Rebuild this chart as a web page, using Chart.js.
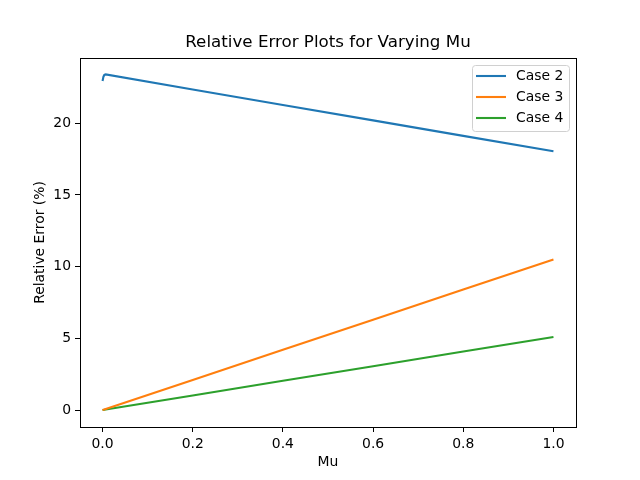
<!DOCTYPE html>
<html>
<head>
<meta charset="utf-8">
<script src="https://cdn.jsdelivr.net/npm/chart.js@4"></script>
<style>
  html, body { margin: 0; padding: 0; background: #fff; }
  canvas { display: block; }
</style>
</head>
<body>
<canvas id="chart" width="640" height="480"></canvas>
<script>
// Datos
const mu = [0, 0.002, 0.004, 0.007, 0.2, 0.4, 0.6, 0.8, 1.0];
const case2 = [22.95, 23.25, 23.37, 23.41, 22.35, 21.27, 20.2, 19.12, 18.05];
const case3 = [0, 0.02, 0.04, 0.07, 2.1, 4.2, 6.3, 8.4, 10.5];
const case4 = [0, 0.01, 0.02, 0.035, 1.02, 2.04, 3.06, 4.08, 5.1];

const xTicks = [0, 0.2, 0.4, 0.6, 0.8, 1.0];
const yTicks = [0, 5, 10, 15, 20];

const seriesLabels = ['Case 2', 'Case 3', 'Case 4'];
const seriesColors = ['#1f77b4', '#ff7f0e', '#2ca02c'];

const chartTitle = 'Relative Error Plots for Varying Mu';
const FONT = 'DejaVu Sans';

function toPoints(ys) {
    return mu.map((x, i) => ({ x: x, y: ys[i] }));
}

// Marco completo del area de ejes + titulo centrado sobre los ejes
const framePlugin = {
    id: 'frame',
    afterDraw(chart) {
        const { ctx, chartArea: a } = chart;
        ctx.save();
        ctx.strokeStyle = '#000';
        ctx.lineWidth = 1;
        ctx.strokeRect(Math.round(a.left) + 0.5, Math.round(a.top) + 0.5,
            Math.round(a.right - a.left), Math.round(a.bottom - a.top));
        ctx.fillStyle = '#000';
        ctx.font = '16.7px ' + FONT;
        ctx.textAlign = 'center';
        ctx.textBaseline = 'middle';
        ctx.fillText(chartTitle, (a.left + a.right) / 2, a.top - 15);
        ctx.restore();
    }
};

// Leyenda dentro del area (arriba a la derecha)
const legendPlugin = {
    id: 'innerLegend',
    afterDraw(chart) {
        const { ctx, chartArea: a } = chart;
        const boxW = 97, boxH = 66;
        const x0 = a.right - 7 - boxW;
        const y0 = a.top + 7;
        ctx.save();
        ctx.fillStyle = 'rgba(255,255,255,0.8)';
        ctx.strokeStyle = '#d0d0d0';
        ctx.lineWidth = 1;
        ctx.beginPath();
        ctx.roundRect(x0 + 0.5, y0 + 0.5, boxW, boxH, 3);
        ctx.fill();
        ctx.stroke();
        ctx.font = '13.9px ' + FONT;
        ctx.textBaseline = 'middle';
        ctx.fillStyle = '#000';
        chart.data.datasets.forEach((ds, i) => {
            const yy = y0 + 11 + i * 21;
            ctx.strokeStyle = ds.borderColor;
            ctx.lineWidth = 2.1;
            ctx.beginPath();
            ctx.moveTo(x0 + 4, yy);
            ctx.lineTo(x0 + 34, yy);
            ctx.stroke();
            ctx.fillText(ds.label, x0 + 44, yy);
        });
        ctx.restore();
    }
};

new Chart(document.getElementById('chart'), {
    type: 'scatter',
    data: {
        datasets: [case2, case3, case4].map((ys, i) => ({
            label: seriesLabels[i],
            data: toPoints(ys),
            showLine: true,
            borderColor: seriesColors[i],
            backgroundColor: seriesColors[i],
            borderWidth: 2.1,
            pointRadius: 0,
            tension: 0
        }))
    },
    options: {
        responsive: false,
        devicePixelRatio: 1,
        animation: false,
        layout: { padding: { left: 0, right: 64, top: 58, bottom: 0 } },
        plugins: {
            legend: { display: false },
            tooltip: { enabled: false },
            title: { display: false }
        },
        scales: {
            x: {
                type: 'linear',
                min: -0.05,
                max: 1.05,
                afterBuildTicks(scale) { scale.ticks = xTicks.map(v => ({ value: v })); },
                afterFit(scale) { scale.height = 53; },
                grid: { drawOnChartArea: false, drawTicks: true, tickLength: 5, color: '#000' },
                border: { display: true, color: '#000' },
                ticks: {
                    color: '#000',
                    font: { family: FONT, size: 13.9 },
                    padding: 4,
                    maxRotation: 0,
                    callback: v => v.toFixed(1)
                },
                title: {
                    display: true,
                    text: 'Mu',
                    color: '#000',
                    font: { family: FONT, size: 13.9 },
                    padding: { top: 4, bottom: 9 }
                }
            },
            y: {
                type: 'linear',
                min: -1.18,
                max: 24.55,
                afterBuildTicks(scale) { scale.ticks = yTicks.map(v => ({ value: v })); },
                afterFit(scale) { scale.width = 80; },
                grid: { drawOnChartArea: false, drawTicks: true, tickLength: 5, color: '#000' },
                border: { display: true, color: '#000' },
                ticks: {
                    color: '#000',
                    font: { family: FONT, size: 13.9 },
                    padding: 4
                },
                title: {
                    display: true,
                    text: 'Relative Error (%)',
                    color: '#000',
                    font: { family: FONT, size: 13.9 },
                    padding: { top: 32, bottom: 0 }
                }
            }
        }
    },
    plugins: [framePlugin, legendPlugin]
});
</script>
</body>
</html>
